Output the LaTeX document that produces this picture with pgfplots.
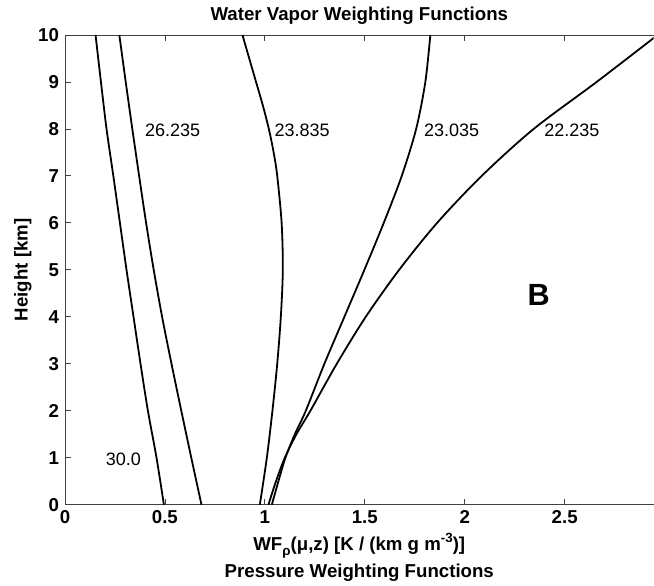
\documentclass[border=0pt]{standalone}
\usepackage{pgfplots}
\pgfplotsset{compat=1.18}
\usepackage{fontspec}
\setmainfont{Liberation Sans}

\pgfplotsset{wf/.style={black, line width=1.35pt, smooth, mark=none}}

\begin{document}
\begin{tikzpicture}
\begin{axis}[
  scale only axis,
  width=441.75pt, height=352.5pt,
  xmin=0, xmax=2.945, ymin=0, ymax=10,
  axis x line*=box, axis y line*=left,
  xtick={0,0.5,1,1.5,2,2.5},
  xticklabels={0,0.5,1,1.5,2,2.5},
  ytick={0,1,...,10},
  tick align=inside,
  major tick length=4.5pt,
  axis line style={draw=black!75, line width=0.6pt},
  every tick/.style={draw=black!75, line width=0.6pt},
  /pgf/number format/assume math mode=true,
  ticklabel style={font=\bfseries\fontsize{14}{16}\selectfont},
  xticklabel style={yshift=-1pt},
  yticklabel style={xshift=-1pt},
  title style={font=\bfseries\fontsize{14}{16}\selectfont, yshift=-2pt},
  title={Water Vapor Weighting Functions},
  xlabel style={font=\bfseries\fontsize{14}{16}\selectfont, align=center, yshift=0pt},
  xlabel={WF\raisebox{-0.55ex}{\fontsize{10}{11}\selectfont ρ}(μ,z) [K / (km g m\raisebox{0.8ex}{\fontsize{10}{11}\selectfont -3})]\\[3pt]Pressure Weighting Functions},
  ylabel style={font=\bfseries\fontsize{14}{16}\selectfont, yshift=-2pt},
  ylabel={Height [km]},
  clip=true,
]
% 30.0 GHz
\addplot[wf] coordinates {
 (0.495,0) (0.458,1) (0.415,2) (0.378,3) (0.343,4) (0.308,5)
 (0.275,6) (0.242,7) (0.208,8) (0.180,9) (0.153,10)};
% 26.235 GHz
\addplot[wf] coordinates {
 (0.683,0) (0.632,1) (0.582,2) (0.533,3) (0.486,4) (0.444,5)
 (0.406,6) (0.371,7) (0.337,8) (0.304,9) (0.272,10)};
% 23.835 GHz
\addplot[wf] coordinates {
 (0.975,0) (1.010,1) (1.038,2) (1.062,3) (1.080,4) (1.090,5)
 (1.084,6) (1.062,7) (1.044,7.5) (1.020,8) (0.990,8.5) (0.956,9)
 (0.922,9.5) (0.888,10)};
% 23.035 GHz
\addplot[wf] coordinates {
 (1.035,0) (1.068,0.5) (1.103,1) (1.150,1.5) (1.205,2) (1.298,3)
 (1.398,4) (1.498,5) (1.595,6) (1.685,7) (1.757,8) (1.803,9) (1.828,10)};
% 22.235 GHz
\addplot[wf] coordinates {
 (1.018,0) (1.056,0.5) (1.100,1) (1.158,1.5) (1.228,2) (1.360,3)
 (1.505,4) (1.672,5) (1.862,6) (2.085,7) (2.345,8) (2.660,9) (2.965,10)};

\node[anchor=west, inner sep=0pt, font=\fontsize{13.5}{15}\selectfont] at (axis cs:0.203,0.97) {30.0};
\node[anchor=west, inner sep=0pt, font=\fontsize{13.5}{15}\selectfont] at (axis cs:0.400,7.98) {26.235};
\node[anchor=west, inner sep=0pt, font=\fontsize{13.5}{15}\selectfont] at (axis cs:1.047,7.98) {23.835};
\node[anchor=west, inner sep=0pt, font=\fontsize{13.5}{15}\selectfont] at (axis cs:1.795,7.98) {23.035};
\node[anchor=west, inner sep=0pt, font=\fontsize{13.5}{15}\selectfont] at (axis cs:2.397,7.98) {22.235};
\node[font=\bfseries\fontsize{23}{26}\selectfont] at (axis cs:2.37,4.47) {B};
\end{axis}
\path ([xshift=-48.75pt,yshift=-60pt]current axis.south west) rectangle ([yshift=26.25pt]current axis.north east);
\end{tikzpicture}
\end{document}
